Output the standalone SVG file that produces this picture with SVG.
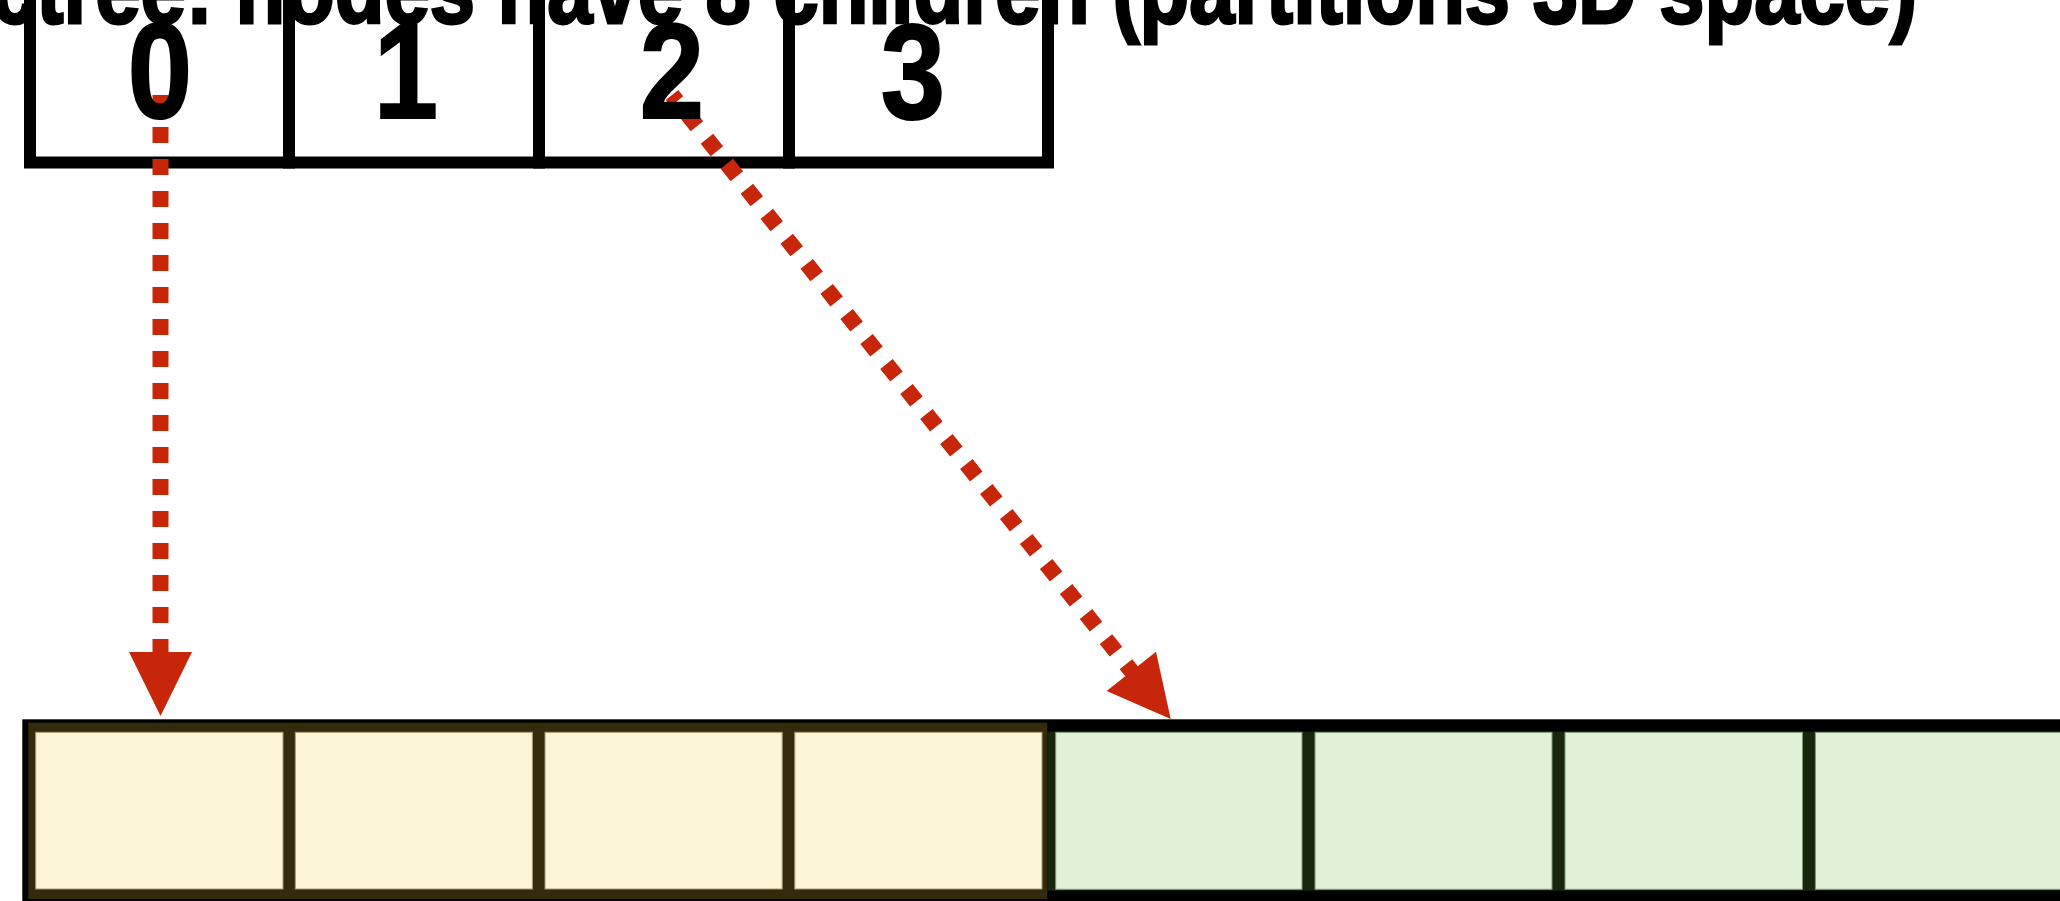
<svg xmlns="http://www.w3.org/2000/svg" width="2060" height="901" viewBox="0 0 2060 901">
<defs>
<style>
.box{fill:#ffffff;stroke:#000000;stroke-width:12}
.digit{font-family:"Liberation Sans",Arial,sans-serif;font-weight:bold;font-size:136px;fill:#000000;stroke:#000000;stroke-width:2;text-anchor:middle}
.title{font-family:"Liberation Sans",Arial,sans-serif;font-weight:bold;font-size:100px;fill:#000000;stroke:#000000;stroke-width:3}
.cream{fill:#fbf5d6;stroke:#a39c74;stroke-width:1}
.green{fill:#e1f1d9;stroke:#7d9a72;stroke-width:1}
.conn{fill:none;stroke:#c8260a;stroke-width:16;stroke-dasharray:16 16}
.head{fill:#c8260a}
</style>
</defs>
<rect x="0" y="0" width="2060" height="901" fill="#ffffff"/>

<g id="top-nodes">
  <g id="node0"><rect class="box" x="30" y="-30" width="259" height="192.5"/></g>
  <g id="node1"><rect class="box" x="289" y="-30" width="250" height="192.5"/></g>
  <g id="node2"><rect class="box" x="539" y="-30" width="250" height="192.5"/></g>
  <g id="node3"><rect class="box" x="789" y="-30" width="259" height="192.5"/></g>
</g>

<g id="bottom-array">
  <rect x="22.3" y="719.3" width="2040" height="182" fill="#000000"/>
  <rect x="28.3" y="722.7" width="1019" height="176.3" fill="#332b0b"/>
  <rect x="1047.3" y="731.7" width="1015" height="159" fill="#19260f"/>
  <g id="slot0"><rect class="cream" x="35.7" y="732.3" width="247.3" height="156.7"/></g>
  <g id="slot1"><rect class="cream" x="295.3" y="732.3" width="237.1" height="156.7"/></g>
  <g id="slot2"><rect class="cream" x="545" y="732.3" width="237.2" height="156.7"/></g>
  <g id="slot3"><rect class="cream" x="794.8" y="732.3" width="247.2" height="156.7"/></g>
  <g id="slot4"><rect class="green" x="1055.7" y="732.3" width="246.3" height="157"/></g>
  <g id="slot5"><rect class="green" x="1315" y="732.3" width="237" height="157"/></g>
  <g id="slot6"><rect class="green" x="1565" y="732.3" width="237.5" height="157"/></g>
  <g id="slot7"><rect class="green" x="1815.4" y="732.3" width="260" height="157"/></g>
</g>

<g id="connectors">
  <line class="conn" x1="160.5" y1="95" x2="160.5" y2="655"/>
  <polygon class="head" points="129,652 192,652 160.5,716"/>
  <line class="conn" x1="672" y1="95" x2="1133" y2="673" stroke-dashoffset="8"/>
  <polygon class="head" points="1156,651.7 1106.7,691 1170.7,719"/>
</g>

<g id="labels">
  <text class="digit" transform="translate(160,118) scale(0.85,1)">0</text>
  <text class="digit" transform="translate(406,118) scale(0.85,1)">1</text>
  <text class="digit" transform="translate(672,118) scale(0.85,1)">2</text>
  <text class="digit" transform="translate(913,118) scale(0.85,1)">3</text>
</g>

<text id="title" class="title" x="-72" y="23" textLength="1989" lengthAdjust="spacingAndGlyphs">Octree: nodes have 8 children (partitions 3D space)</text>
</svg>
